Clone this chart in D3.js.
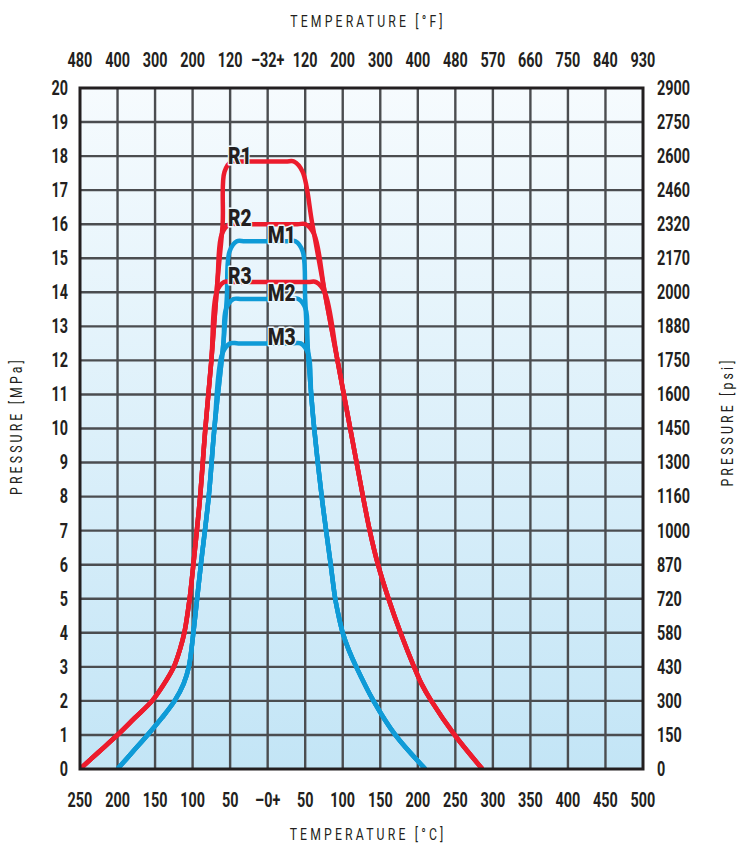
<!DOCTYPE html>
<html>
<head>
<meta charset="utf-8">
<script src="https://cdn.jsdelivr.net/npm/d3@7"></script>
<style>
  body { margin: 0; background: #fff; }
  text { font-family: Roboto, "DejaVu Sans", sans-serif; }
</style>
</head>
<body>
<div id="chart"></div>
<script>
// axis ticks: temperature in °C (left half is below zero), pressure in MPa
const tempTicks = [-250, -200, -150, -100, -50, 0, 50, 100, 150, 200, 250, 300, 350, 400, 450, 500];
const tempCLabels = ["250", "200", "150", "100", "50", "–0+", "50", "100", "150", "200", "250", "300", "350", "400", "450", "500"];
const tempFLabels = ["480", "400", "300", "200", "120", "–32+", "120", "200", "300", "400", "480", "570", "660", "750", "840", "930"];
const mpaTicks = [0, 1, 2, 3, 4, 5, 6, 7, 8, 9, 10, 11, 12, 13, 14, 15, 16, 17, 18, 19, 20];
const psiLabels = ["0", "150", "300", "430", "580", "720", "870", "1000", "1160", "1300", "1450",
                   "1600", "1750", "1880", "2000", "2170", "2320", "2460", "2600", "2750", "2900"];

// red envelope (R series)
const redLeftP  = [0, 0.5, 1, 1.5, 2, 2.5, 3, 3.5, 4, 5, 6, 8, 10, 12, 14.3, 16, 17.84];
const redLeftT  = [-250, -225, -200, -177, -154, -138, -125, -117, -111, -104, -99, -90, -83, -75, -67, -60, -57];
const redRightP = [17.84, 16, 14, 12, 10, 8, 7, 6, 5, 4, 3, 2.5, 2, 1, 0];
const redRightT = [44, 59.5, 76, 93, 110, 127, 136, 147, 161, 177, 195, 205, 218, 249, 286];
const redNames = ["R1", "R2", "R3"];
const redPlateaus = [17.84, 16.0, 14.3];

// blue envelope (M series)
const blueLeftP  = [0, 0.5, 1, 1.5, 2, 2.5, 3, 4, 5, 6, 8, 10, 12.5, 13.8, 15.5];
const blueLeftT  = [-200, -180, -160, -141, -124, -112, -105, -99, -94, -89, -78.5, -71, -59, -54.5, -50];
const blueRightP = [15.5, 13.8, 12.5, 11, 10, 8, 6, 5, 4.5, 4, 3.5, 3, 2, 1, 0];
const blueRightT = [46, 50, 53, 58, 62, 72, 84, 90, 94.5, 100, 108, 118, 141, 170, 210];
const blueNames = ["M1", "M2", "M3"];
const bluePlateaus = [15.5, 13.8, 12.5];

const W = 738, H = 845;
const pLeft = 80, pRight = 643, pTop = 88, pBottom = 769;

const svg = d3.select('#chart').append('svg')
    .attr('width', W)
    .attr('height', H);

const x = d3.scaleLinear().domain([-250, 500]).range([pLeft, pRight]);
const y = d3.scaleLinear().domain([0, 20]).range([pBottom, pTop]);

const defs = svg.append('defs');
const grad = defs.append('linearGradient')
    .attr('id', 'bg').attr('x1', 0).attr('y1', 0).attr('x2', 0).attr('y2', 1);
grad.append('stop').attr('offset', '0%').attr('stop-color', '#f6fbfe');
grad.append('stop').attr('offset', '100%').attr('stop-color', '#c3e5f6');
defs.append('clipPath').attr('id', 'plotClip')
    .append('rect').attr('x', pLeft).attr('y', pTop)
    .attr('width', pRight - pLeft).attr('height', pBottom - pTop);

svg.append('rect')
    .attr('x', pLeft).attr('y', pTop)
    .attr('width', pRight - pLeft).attr('height', pBottom - pTop)
    .attr('fill', 'url(#bg)');

// grid
svg.append('g').selectAll('line')
    .data(tempTicks.slice(1, -1))
    .enter().append('line')
    .attr('x1', d => x(d)).attr('x2', d => x(d))
    .attr('y1', pTop).attr('y2', pBottom)
    .attr('stroke', '#4b4d50').attr('stroke-width', 2.4);
svg.append('g').selectAll('line')
    .data(mpaTicks.slice(1, -1))
    .enter().append('line')
    .attr('y1', d => y(d)).attr('y2', d => y(d))
    .attr('x1', pLeft).attr('x2', pRight)
    .attr('stroke', '#4b4d50').attr('stroke-width', 2.4);

// build a plateau curve: up the left edge, across at the plateau, down the right edge
function plateauPoints(lp, lt, rp, rt, level) {
  const leftEdge = d3.scaleLinear().domain(lp).range(lt);
  const rightEdge = d3.scaleLinear().domain(rp).range(rt);
  const r = 0.3;
  const tl = leftEdge(level), tr = rightEdge(level);
  const pts = [];
  lp.forEach((p, i) => { if (p < level - r) pts.push([lt[i], p]); });
  pts.push([leftEdge(level - r), level - r]);
  pts.push([tl + 9, level]);
  pts.push([tl + 20, level]);
  pts.push([tr - 20, level]);
  pts.push([tr - 9, level]);
  pts.push([rightEdge(level - r), level - r]);
  rp.forEach((p, i) => { if (p < level - r) pts.push([rt[i], p]); });
  return pts;
}

const line = d3.line()
    .x(d => x(d[0]))
    .y(d => y(d[1]))
    .curve(d3.curveCatmullRom.alpha(0.5));

const curves = svg.append('g').attr('clip-path', 'url(#plotClip)');

curves.selectAll('path.blue')
    .data(bluePlateaus)
    .enter().append('path')
    .attr('class', 'blue')
    .attr('d', lvl => line(plateauPoints(blueLeftP, blueLeftT, blueRightP, blueRightT, lvl)))
    .attr('fill', 'none')
    .attr('stroke', '#0f9bd7')
    .attr('stroke-width', 4.5);

curves.selectAll('path.red')
    .data(redPlateaus)
    .enter().append('path')
    .attr('class', 'red')
    .attr('d', lvl => line(plateauPoints(redLeftP, redLeftT, redRightP, redRightT, lvl)))
    .attr('fill', 'none')
    .attr('stroke', '#ec1c2d')
    .attr('stroke-width', 4.5);

// frame
svg.append('rect')
    .attr('x', pLeft).attr('y', pTop)
    .attr('width', pRight - pLeft).attr('height', pBottom - pTop)
    .attr('fill', 'none')
    .attr('stroke', '#231f20')
    .attr('stroke-width', 3);

// condensed text: place at (px, py) and squeeze horizontally
const place = (px, py, sx) => `translate(${px},${py}) scale(${sx},1)`;

// series labels
function addLabels(names, levels, t) {
  svg.append('g').selectAll('text')
    .data(names)
    .enter().append('text')
    .attr('transform', (d, i) => place(x(t), y(levels[i]) + 2, 0.8))
    .attr('font-size', 24)
    .attr('font-weight', 900)
    .attr('fill', '#231f20')
    .attr('stroke', '#eef8fd')
    .attr('stroke-width', 3)
    .attr('stroke-linejoin', 'round')
    .attr('paint-order', 'stroke')
    .text(d => d);
}
addLabels(redNames, redPlateaus, -53);
addLabels(blueNames, bluePlateaus, 0);

// tick labels
const tickStyle = sel => sel
    .attr('font-size', 20)
    .attr('font-weight', 700)
    .attr('fill', '#231f20')
    .attr('dominant-baseline', 'central');
const tickSx = 0.72;

svg.append('g').selectAll('text')
    .data(tempTicks)
    .enter().append('text')
    .attr('transform', d => place(x(d), 800, tickSx))
    .attr('text-anchor', 'middle')
    .call(tickStyle)
    .text((d, i) => tempCLabels[i]);

svg.append('g').selectAll('text')
    .data(tempTicks)
    .enter().append('text')
    .attr('transform', d => place(x(d), 60, tickSx))
    .attr('text-anchor', 'middle')
    .call(tickStyle)
    .text((d, i) => tempFLabels[i]);

svg.append('g').selectAll('text')
    .data(mpaTicks)
    .enter().append('text')
    .attr('transform', d => place(68, y(d), tickSx))
    .attr('text-anchor', 'end')
    .call(tickStyle)
    .text(d => d);

svg.append('g').selectAll('text')
    .data(mpaTicks)
    .enter().append('text')
    .attr('transform', d => place(657, y(d), tickSx))
    .attr('text-anchor', 'start')
    .call(tickStyle)
    .text((d, i) => psiLabels[i]);

// axis titles
const titleStyle = sel => sel
    .attr('font-size', 17)
    .attr('font-weight', 400)
    .attr('letter-spacing', 4.4)
    .attr('fill', '#231f20')
    .attr('text-anchor', 'middle')
    .attr('dominant-baseline', 'central');

svg.append('text').attr('transform', place(368, 21, 0.72)).call(titleStyle).text('TEMPERATURE [°F]');
svg.append('text').attr('transform', place(368, 834, 0.72)).call(titleStyle).text('TEMPERATURE [°C]');
svg.append('text').attr('transform', 'translate(16,426) rotate(-90) scale(0.72,1)').call(titleStyle).text('PRESSURE [MPa]');
svg.append('text').attr('transform', 'translate(727,422) rotate(-90) scale(0.72,1)').call(titleStyle).text('PRESSURE [psi]');
</script>
</body>
</html>
